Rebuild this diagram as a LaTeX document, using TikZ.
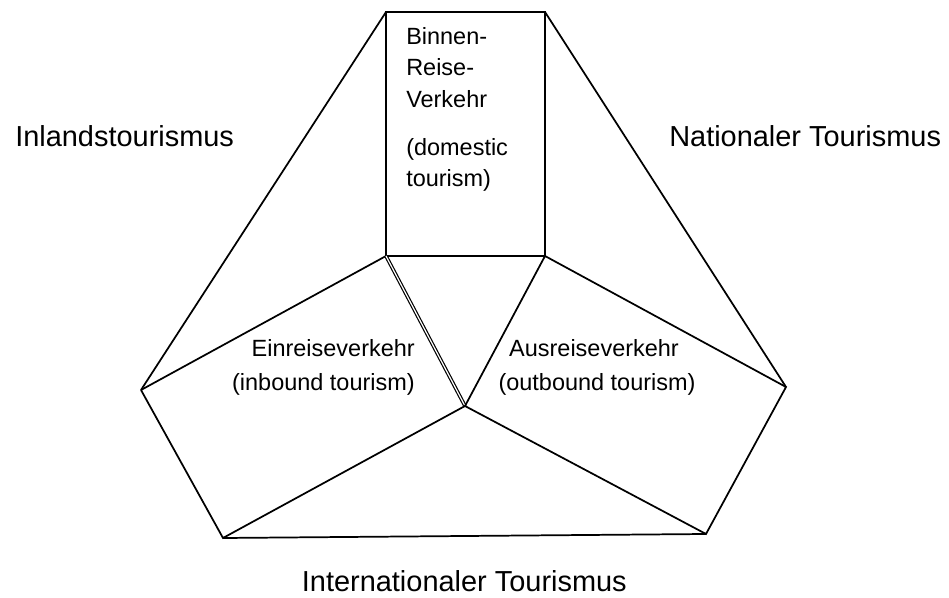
\documentclass[tikz,border=0pt]{standalone}
\usepackage{fontspec}
\setmainfont{Liberation Sans}
\begin{document}
\begin{tikzpicture}[x=0.75pt,y=-0.75pt,
  edge/.style={line width=1.3pt,line join=miter},
  dbledge/.style={line width=0.9pt,double,double distance=0.9pt},
  biglabel/.style={inner sep=0pt,anchor=base west,font=\fontsize{21.7pt}{26pt}\selectfont},
  smalllabel/.style={inner sep=0pt,font=\fontsize{17.6pt}{21pt}\selectfont}]
\useasboundingbox (0,0) rectangle (949,598);

% corner points of the figure
\coordinate (TL) at (386,12);
\coordinate (TR) at (545,12);
\coordinate (BL) at (386,256);
\coordinate (BR) at (545,256);
\coordinate (C)  at (465,406);
\coordinate (L)  at (141,390);
\coordinate (R)  at (786,387);
\coordinate (DL) at (223,538);
\coordinate (DR) at (706,534);

% domestic box
\draw[edge] (TL) -- (TR) -- (BR) -- (BL) -- cycle;
% outer sides
\draw[edge] (TL) -- (L);
\draw[edge] (TR) -- (R);
% inbound quadrilateral
\draw[edge] (L) -- (BL);
\draw[dbledge] (BL) -- (C);
\draw[edge] (C) -- (DL) -- (L);
% outbound quadrilateral
\draw[edge] (BR) -- (R) -- (DR) -- (C) -- (BR);
% bottom edge
\draw[edge] (DL) -- (DR);

% labels
\node[biglabel] (inland) at (15,147) {Inlandstourismus};
\node[biglabel] (national) at (669,147) {Nationaler Tourismus};
\node[biglabel,anchor=base east] (international) at (627,591) {Internationaler Tourismus};

\node[smalllabel,anchor=base west] (b1) at (406,45) {Binnen-};
\node[smalllabel,anchor=base west] (b2) at (406,76) {Reise-};
\node[smalllabel,anchor=base west] (b3) at (406,108) {Verkehr};
\node[smalllabel,anchor=base west] (b4) at (406,156) {(domestic};
\node[smalllabel,anchor=base west] (b5) at (406,187) {tourism)};

\node[smalllabel,anchor=base east] (in1) at (415,357) {Einreiseverkehr};
\node[smalllabel,anchor=base east] (in2) at (415,390) {(inbound tourism)};

\node[smalllabel,anchor=base] (out1) at (594,357) {Ausreiseverkehr};
\node[smalllabel,anchor=base] (out2) at (597,390) {(outbound tourism)};
\end{tikzpicture}
\end{document}
